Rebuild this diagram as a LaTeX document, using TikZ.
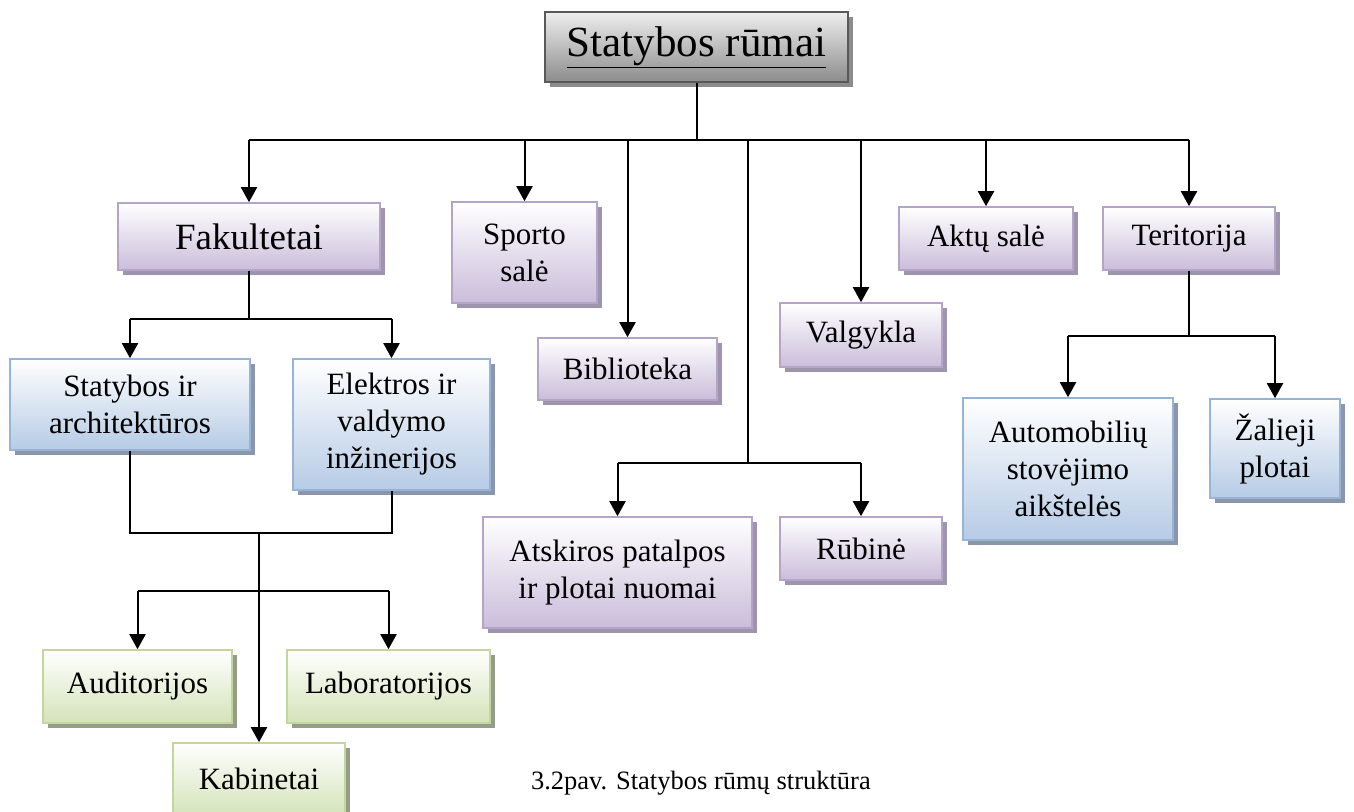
\documentclass[tikz,border=0pt]{standalone}
\usepackage{fontspec}
\setmainfont{Liberation Serif}
\usetikzlibrary{arrows.meta, shadows}

\definecolor{lilacDark}{RGB}{202,189,218}
\definecolor{lilacEdge}{RGB}{180,164,202}
\definecolor{lilacShade}{RGB}{158,148,172}
\definecolor{blueDark}{RGB}{182,203,229}
\definecolor{blueEdge}{RGB}{150,180,215}
\definecolor{blueShade}{RGB}{140,150,168}
\definecolor{greenDark}{RGB}{212,227,185}
\definecolor{greenEdge}{RGB}{196,214,156}
\definecolor{greenShade}{RGB}{150,156,140}
\definecolor{greyTop}{RGB}{238,238,238}
\definecolor{greyDark}{RGB}{140,140,140}

\begin{document}
\begin{tikzpicture}[
    x=1pt, y=-1pt,
    font=\fontsize{31}{37}\selectfont,
    box/.style={rectangle, inner sep=0pt, align=center, line width=1.6pt},
    lilac/.style={box, draw=lilacEdge, top color=white, bottom color=lilacDark,
        drop shadow={shadow xshift=5pt, shadow yshift=-5pt, fill=lilacShade, opacity=1}},
    blue/.style={box, draw=blueEdge, top color=white, bottom color=blueDark,
        drop shadow={shadow xshift=5pt, shadow yshift=-5pt, fill=blueShade, opacity=1}},
    green/.style={box, draw=greenEdge, top color=white, bottom color=greenDark,
        drop shadow={shadow xshift=5pt, shadow yshift=-5pt, fill=greenShade, opacity=1}},
    root/.style={box, draw=black!65, top color=greyTop, bottom color=greyDark,
        drop shadow={shadow xshift=5pt, shadow yshift=-5pt, fill=black!45, opacity=1}},
    line/.style={line width=2pt, draw=black},
    arrow/.style={line, -{Triangle[length=15pt, width=16pt]}},
]
\useasboundingbox (0,0) rectangle (1354,811);

% Root
\node[root, minimum width=303pt, minimum height=70pt, font=\fontsize{43}{50}\selectfont]
    (top) at (696.5,47) {\underline{Statybos rūmai}};

% First level
\node[lilac, minimum width=262pt, minimum height=67pt, font=\fontsize{37}{44}\selectfont]
    (fak) at (249,236.5) {Fakultetai};
\node[lilac, minimum width=145pt, minimum height=101pt] (sport) at (524.5,252.5) {Sporto\\salė};
\node[lilac, minimum width=179pt, minimum height=62pt] (bibl) at (627.5,369) {Biblioteka};
\node[lilac, minimum width=162pt, minimum height=64pt] (valg) at (861,335) {Valgykla};
\node[lilac, minimum width=174pt, minimum height=63pt] (aktu) at (986,238.5) {Aktų salė};
\node[lilac, minimum width=172pt, minimum height=63pt] (terit) at (1189,238.5) {Teritorija};
\node[lilac, minimum width=269pt, minimum height=111pt] (atsk) at (617.5,572.5) {Atskiros patalpos\\ir plotai nuomai};
\node[lilac, minimum width=162pt, minimum height=63pt] (rub) at (861,548.5) {Rūbinė};

% Faculties
\node[blue, minimum width=240pt, minimum height=91pt] (stat) at (130,404.5) {Statybos ir\\architektūros};
\node[blue, minimum width=197pt, minimum height=131pt] (elek) at (391.5,424.5) {Elektros ir\\valdymo\\inžinerijos};

% Territory
\node[blue, minimum width=210pt, minimum height=142pt] (auto) at (1068,469) {Automobilių\\stovėjimo\\aikštelės};
\node[blue, minimum width=130pt, minimum height=99pt] (zal) at (1275,448.5) {Žalieji\\plotai};

% Rooms
\node[green, minimum width=189pt, minimum height=73pt] (aud) at (137.5,686.5) {Auditorijos};
\node[green, minimum width=203pt, minimum height=73pt] (lab) at (388.5,686.5) {Laboratorijos};
\node[green, minimum width=172pt, minimum height=72pt] (kab) at (259,779) {Kabinetai};

\node[font=\fontsize{26.5}{31}\selectfont, anchor=base east, inner sep=0pt] (cap) at (871,789)
    {3.2pav. Statybos rūmų struktūra};

% Root bus
\draw[line] (top.south) -- ++(0,57) coordinate (bus);
\draw[line] (bus -| fak) -- (bus -| terit);
\foreach \n in {fak, sport, bibl, valg, aktu, terit}
    \draw[arrow] (bus -| \n) -- (\n);

% Rental branch
\coordinate (rent) at (748,463);
\draw[line] (bus -| rent) -- (rent);
\draw[line] (rent -| atsk) -- (rent -| rub);
\draw[arrow] (rent -| atsk) -- (atsk);
\draw[arrow] (rent -| rub) -- (rub);

% Faculties split
\draw[line] (fak.south) -- ++(0,48) coordinate (fsplit);
\draw[line] (fsplit -| stat) -- (fsplit -| elek);
\draw[arrow] (fsplit -| stat) -- (stat);
\draw[arrow] (fsplit -| elek) -- (elek);

% Rooms join
\coordinate (kjoin) at (259,533);
\coordinate (ksplit) at (259,591);
\draw[line] (stat.south) -- (stat.south |- kjoin) -- (elek.south |- kjoin) -- (elek.south);
\draw[arrow] (kjoin) -- (kab);
\draw[line] (ksplit -| aud) -- (ksplit -| lab);
\draw[arrow] (ksplit -| aud) -- (aud);
\draw[arrow] (ksplit -| lab) -- (lab);

% Territory split
\draw[line] (terit.south) -- ++(0,65) coordinate (tsplit);
\draw[line] (tsplit -| auto) -- (tsplit -| zal);
\draw[arrow] (tsplit -| auto) -- (auto);
\draw[arrow] (tsplit -| zal) -- (zal);

\end{tikzpicture}
\end{document}
